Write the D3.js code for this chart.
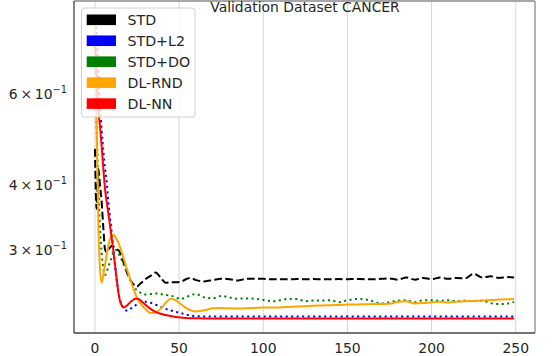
<!DOCTYPE html>
<html><head><meta charset="utf-8">
<script src="https://cdn.jsdelivr.net/npm/d3@7"></script>
<style>body{margin:0;background:#fff}svg{display:block}text{font-family:"DejaVu Sans",sans-serif;fill:#262626}</style>
</head><body><svg id="c" width="552" height="356"></svg>
<script>
const title = "Validation Dataset CANCER";
const seriesNames = ["STD","STD+L2","STD+DO","DL-RND","DL-NN"];
const seriesColors = ["#000000","#0000ff","#008000","#ffa500","#ff0000"];
const seriesDash = ["7.7,3.3","2.1,3.4","2.1,3.4",null,null];
const xTicks = [0,50,100,150,200,250];
const yTicks = [0.6,0.4,0.3];
const yTickLabels = [["6","\u22121"],["4","\u22121"],["3","\u22121"]];

const epochs = [0,1,2,3,4,5,6,7,8,9,10,11,12,13,14,15,16,17,18,19,20,21,22,23,24,25,26,27,28,29,30,
  33,36,39,42,45,48,51,54,57,60,
  65,70,75,80,85,90,95,100,105,110,115,120,125,130,135,140,145,150,155,160,165,170,175,180,185,190,195,200,205,210,215,220,225,230,235,240,245,249];

const std = [0.47,0.36,0.43,0.40,0.37,0.33,0.30,0.297,0.30,0.303,0.305,0.304,0.302,0.300,0.2995,0.295,0.289,0.283,0.277,0.271,0.266,0.262,0.259,0.257,0.255,0.2545,0.256,0.258,0.2595,0.261,0.263,
  0.267,0.271,0.265,0.259,0.2595,0.2595,0.260,0.263,0.2645,0.262,
  0.2605,0.262,0.2637,0.263,0.2615,0.2635,0.2635,0.2635,0.263,0.263,0.263,0.2632,0.263,0.2632,0.263,0.263,0.2632,0.263,0.2633,0.263,0.263,0.2635,0.264,0.2625,0.265,0.2625,0.2645,0.263,0.265,0.2635,0.2645,0.264,0.2695,0.265,0.2665,0.2645,0.2655,0.265];

const stdL2 = [0.85,0.78,0.67,0.57,0.51,0.465,0.43,0.405,0.37,0.345,0.323,0.30,0.278,0.26,0.247,0.239,0.234,0.231,0.2293,0.2288,0.2292,0.2303,0.2317,0.233,0.234,0.2352,0.2362,0.237,0.2376,0.2379,0.2379,
  0.2368,0.2348,0.2328,0.2305,0.2288,0.2275,0.2262,0.2248,0.2238,0.2232,
  0.2229,0.2229,0.2229,0.2229,0.2229,0.2229,0.2229,0.2229,0.2229,0.2229,0.2229,0.2229,0.2229,0.2229,0.2229,0.2229,0.2229,0.2229,0.2229,0.2229,0.2229,0.2229,0.2229,0.2229,0.2229,0.2229,0.2229,0.2229,0.2229,0.2229,0.2229,0.2229,0.2229,0.2229,0.2229,0.2229,0.2229,0.2229];

const stdDO = [0.68,0.52,0.40,0.33,0.295,0.276,0.268,0.272,0.278,0.284,0.29,0.296,0.2995,0.2985,0.295,0.29,0.286,0.281,0.276,0.271,0.266,0.262,0.258,0.2545,0.252,0.2505,0.249,0.2478,0.247,0.2462,0.2458,
  0.2462,0.2468,0.2462,0.2452,0.2445,0.2425,0.241,0.2425,0.2452,0.246,
  0.2425,0.2415,0.2442,0.2425,0.2412,0.2415,0.241,0.2398,0.2385,0.2395,0.241,0.2408,0.2385,0.2392,0.2392,0.2395,0.2375,0.2395,0.2408,0.2405,0.2385,0.236,0.2375,0.239,0.2395,0.2375,0.2395,0.2395,0.239,0.2395,0.2385,0.239,0.2385,0.239,0.2365,0.2355,0.236,0.2378];

const dlRnd = [0.80,0.52,0.34,0.275,0.259,0.268,0.281,0.294,0.306,0.315,0.3195,0.3205,0.318,0.3135,0.309,0.303,0.296,0.289,0.282,0.275,0.269,0.2625,0.2565,0.251,0.2465,0.2425,0.239,0.2365,0.234,0.232,0.2302,
  0.2263,0.2268,0.2305,0.2365,0.241,0.2395,0.2355,0.2315,0.229,0.2278,
  0.229,0.231,0.2315,0.231,0.2308,0.231,0.2315,0.232,0.2318,0.232,0.2325,0.233,0.2333,0.2336,0.234,0.2343,0.2346,0.2349,0.2351,0.2353,0.2355,0.2356,0.2358,0.2378,0.2385,0.236,0.2365,0.2375,0.2378,0.2372,0.238,0.2385,0.2388,0.2392,0.2398,0.2402,0.2406,0.2408];

const dlNn = [0.78,0.65,0.56,0.52,0.475,0.43,0.393,0.371,0.352,0.333,0.315,0.297,0.279,0.262,0.247,0.238,0.234,0.232,0.2325,0.234,0.2357,0.2375,0.239,0.2403,0.241,0.2412,0.2407,0.2395,0.238,0.2363,0.2347,
  0.2305,0.2275,0.2255,0.2242,0.2232,0.2224,0.2218,0.2214,0.2211,0.221,
  0.2209,0.2208,0.2208,0.2208,0.2208,0.2208,0.2208,0.2208,0.2208,0.2208,0.2208,0.2208,0.2208,0.2208,0.2208,0.2208,0.2208,0.2208,0.2208,0.2208,0.2208,0.2208,0.2208,0.2208,0.2208,0.2208,0.2208,0.2208,0.2208,0.2208,0.2208,0.2208,0.2208,0.2208,0.2208,0.2208,0.2208,0.2208];

const seriesValues = [std, stdL2, stdDO, dlRnd, dlNn];

const svg = d3.select("#c");
const L = 74, R = 535, T = 1, B = 333;
const x = d3.scaleLinear().domain([-12.45, 261.45]).range([L, R]);
const y = d3.scaleLog().domain([0.207, 0.908]).range([B, T]);

svg.append("defs").append("clipPath").attr("id","clip").append("rect")
  .attr("x",L).attr("y",T).attr("width",R-L).attr("height",B-T);

// grid
svg.append("g").selectAll("line").data(xTicks).join("line")
  .attr("x1",d=>x(d)).attr("x2",d=>x(d)).attr("y1",T).attr("y2",B)
  .attr("stroke","#d6d6d6").attr("stroke-width",1);

// lines
const line = d3.line().x((d,i)=>x(epochs[i])).y(d=>y(d)).curve(d3.curveMonotoneX);
const gl = svg.append("g").attr("clip-path","url(#clip)");
seriesValues.forEach((vals,k)=>{
  gl.append("path").attr("d", line(vals)).attr("fill","none")
    .attr("stroke", seriesColors[k]).attr("stroke-width",2)
    .attr("stroke-dasharray", seriesDash[k]);
});

// spines
svg.append("line").attr("x1",L).attr("x2",R).attr("y1",T).attr("y2",T).attr("stroke","#8a8a8a").attr("stroke-width",1.3);
svg.append("line").attr("x1",R).attr("x2",R).attr("y1",T).attr("y2",B).attr("stroke","#8a8a8a").attr("stroke-width",1.3);
svg.append("line").attr("x1",L).attr("x2",L).attr("y1",T).attr("y2",B).attr("stroke","#444").attr("stroke-width",1.3);
svg.append("line").attr("x1",L).attr("x2",R).attr("y1",B).attr("y2",B).attr("stroke","#444").attr("stroke-width",1.3);

// x tick labels
svg.append("g").selectAll("text").data(xTicks).join("text")
  .attr("x",d=>x(d)).attr("y",353).attr("text-anchor","middle")
  .style("font-size","13.9px").text(d=>d);

// y tick labels
yTicks.forEach((v,i)=>{
  const t = svg.append("text").attr("x",67).attr("y",y(v)+5).attr("text-anchor","end").style("font-size","13.9px");
  t.append("tspan").text(yTickLabels[i][0]+"\u2009\u00d7\u200910");
  t.append("tspan").attr("dy",-5.8).style("font-size","9.8px").text(yTickLabels[i][1]);
});

// title
svg.append("text").attr("x",305).attr("y",12).attr("text-anchor","middle").style("font-size","13.9px").text(title);

// legend
const lg = svg.append("g");
lg.append("rect").attr("x",81.5).attr("y",8).attr("width",113.5).attr("height",109).attr("rx",3)
  .attr("fill","#fff").attr("fill-opacity",0.8).attr("stroke","#d0d0d0").attr("stroke-width",1);
seriesNames.forEach((n,k)=>{
  const cy = 19.8 + k*20.95;
  lg.append("rect").attr("x",86.7).attr("y",cy-5.3).attr("width",29.3).attr("height",10.6).attr("fill",seriesColors[k]);
  lg.append("text").attr("x",127.5).attr("y",cy+5).style("font-size","14.2px").text(n);
});
</script></body></html>
